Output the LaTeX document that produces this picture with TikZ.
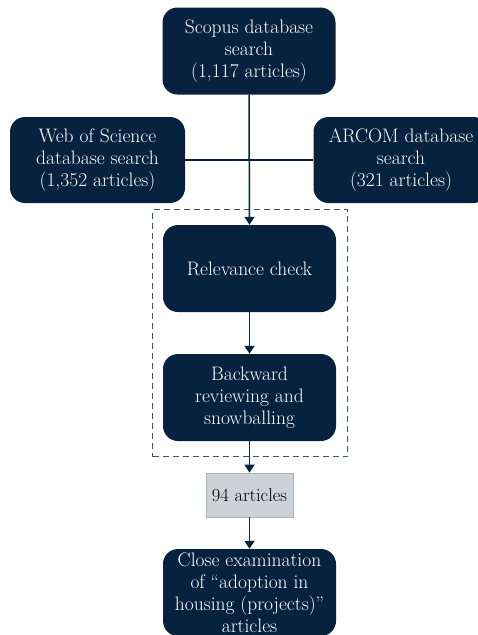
\documentclass[tikz,border=0pt]{standalone}
\usetikzlibrary{arrows.meta}
\definecolor{navy}{HTML}{06223F}
\definecolor{dashc}{HTML}{3C5570}
\definecolor{greyfill}{HTML}{CDD2D9}
\definecolor{greyline}{HTML}{A9B2BE}
\definecolor{txtw}{HTML}{FFFFFF}
\tikzset{
  darkbox/.style={draw=none, fill=navy, rounded corners=15pt, minimum width=173pt, minimum height=87pt, text=txtw, align=center, font=\fontsize{19.5}{22}\selectfont, inner sep=1pt},
  greybox/.style={draw=greyline, line width=0.8pt, fill=greyfill, minimum width=87pt, minimum height=44pt, text=black, font=\fontsize{18.5}{22}\selectfont, inner sep=1pt},
  conn/.style={draw=navy, line width=1.5pt},
  arr/.style={conn, -{Triangle[width=10pt,length=8pt]}},
  dashbox/.style={draw=dashc, line width=1.2pt, dash pattern=on 6pt off 4pt}
}
\begin{document}
\begin{tikzpicture}[x=1pt,y=-1pt]
\useasboundingbox (0,0) rectangle (477,635);
\node[dashbox, minimum width=195pt, minimum height=247pt, anchor=north west] (grp) at (152,209) {};
\node[darkbox] (scopus) at (249,51) {Scopus database\\search\\(1,117 articles)};
\node[darkbox, minimum width=175pt, minimum height=86pt] (wos) at (97.5,160) {Web of Science\\database search\\(1,352 articles)};
\node[darkbox, minimum width=175pt, minimum height=86pt] (arcom) at (401,160) {ARCOM database\\search\\(321 articles)};
\node[darkbox] (rel) at (249.5,268.5) {Relevance check};
\node[darkbox] (back) at (249.5,397.5) {Backward\\reviewing and\\snowballing};
\node[greybox] (n94) at (249.5,495) {94 articles};
\node[darkbox] (close) at (249.5,592.5) {Close examination\\of ``adoption in\\housing (projects)''\\articles};
\draw[conn] (wos.east) -- (arcom.west);
\draw[arr] (scopus.south) -- (rel.north);
\draw[arr] (rel.south) -- (back.north);
\draw[arr] (back.south) -- (n94.north);
\draw[arr] (n94.south) -- (close.north);
\end{tikzpicture}
\end{document}
